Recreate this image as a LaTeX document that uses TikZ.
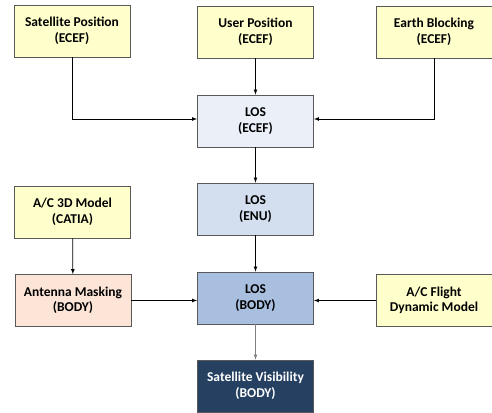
\documentclass[tikz,border=0pt]{standalone}
\usepackage{fontspec}
\setmainfont{Carlito}
\usepackage{tikz}
\usetikzlibrary{shapes,arrows}
\usepackage{color}

\definecolor{inyellow}{HTML}{FFFFCC}
\definecolor{losA}{HTML}{EBF0F8}
\definecolor{losB}{HTML}{D3DFEE}
\definecolor{losC}{HTML}{A9BFDF}
\definecolor{maskpeach}{HTML}{FCE5D7}
\definecolor{visnavy}{HTML}{254061}
\definecolor{boxedge}{HTML}{595959}

\tikzset{
  block/.style={draw=boxedge, line width=0.8pt, minimum width=116pt, minimum height=52pt,
    align=center, font=\fontsize{13.5}{15.5}\selectfont\bfseries, inner sep=2pt},
  input/.style={block, fill=inyellow},
  flow/.style={-latex, line width=0.7pt},
}

\begin{document}
\begin{tikzpicture}[x=1pt, y=-1pt]
    \useasboundingbox (0,0) rectangle (492,412);

    % inputs
    \node[input] (satpos) at (72,31) {Satellite Position\\(ECEF)};
    \node[input] (userpos) at (255.5,32) {User Position\\(ECEF)};
    \node[input] (earth) at (434,32) {Earth Blocking\\(ECEF)};
    \node[input] (model) at (72.5,212) {A/C 3D Model\\(CATIA)};
    \node[input] (flight) at (434,300.5) {A/C Flight\\Dynamic Model};

    % line of sight chain
    \node[block, fill=losA] (losecef) at (255.5,121) {LOS\\(ECEF)};
    \node[block, fill=losB] (losenu) at (255.5,209) {LOS\\(ENU)};
    \node[block, fill=losC] (losbody) at (255.5,298) {LOS\\(BODY)};
    \node[block, fill=maskpeach] (mask) at (73,300.5) {Antenna Masking\\(BODY)};
    \node[block, fill=visnavy, text=white] (vis) at (255.5,386) {Satellite Visibility\\(BODY)};

    % connectors
    \draw[flow] (satpos.south) |- ([yshift=2pt]losecef.west);
    \draw[flow] (earth.south) |- ([yshift=2pt]losecef.east);
    \draw[flow] (userpos) -- (losecef);
    \draw[flow] (losecef) -- (losenu);
    \draw[flow] (losenu) -- (losbody);
    \draw[flow] (model) -- (mask);
    \draw[flow] (mask.east) -- (mask.east -| losbody.west);
    \draw[flow] (flight.west) -- (flight.west -| losbody.east);
    \draw[flow, gray] (losbody) -- (vis);
\end{tikzpicture}
\end{document}
